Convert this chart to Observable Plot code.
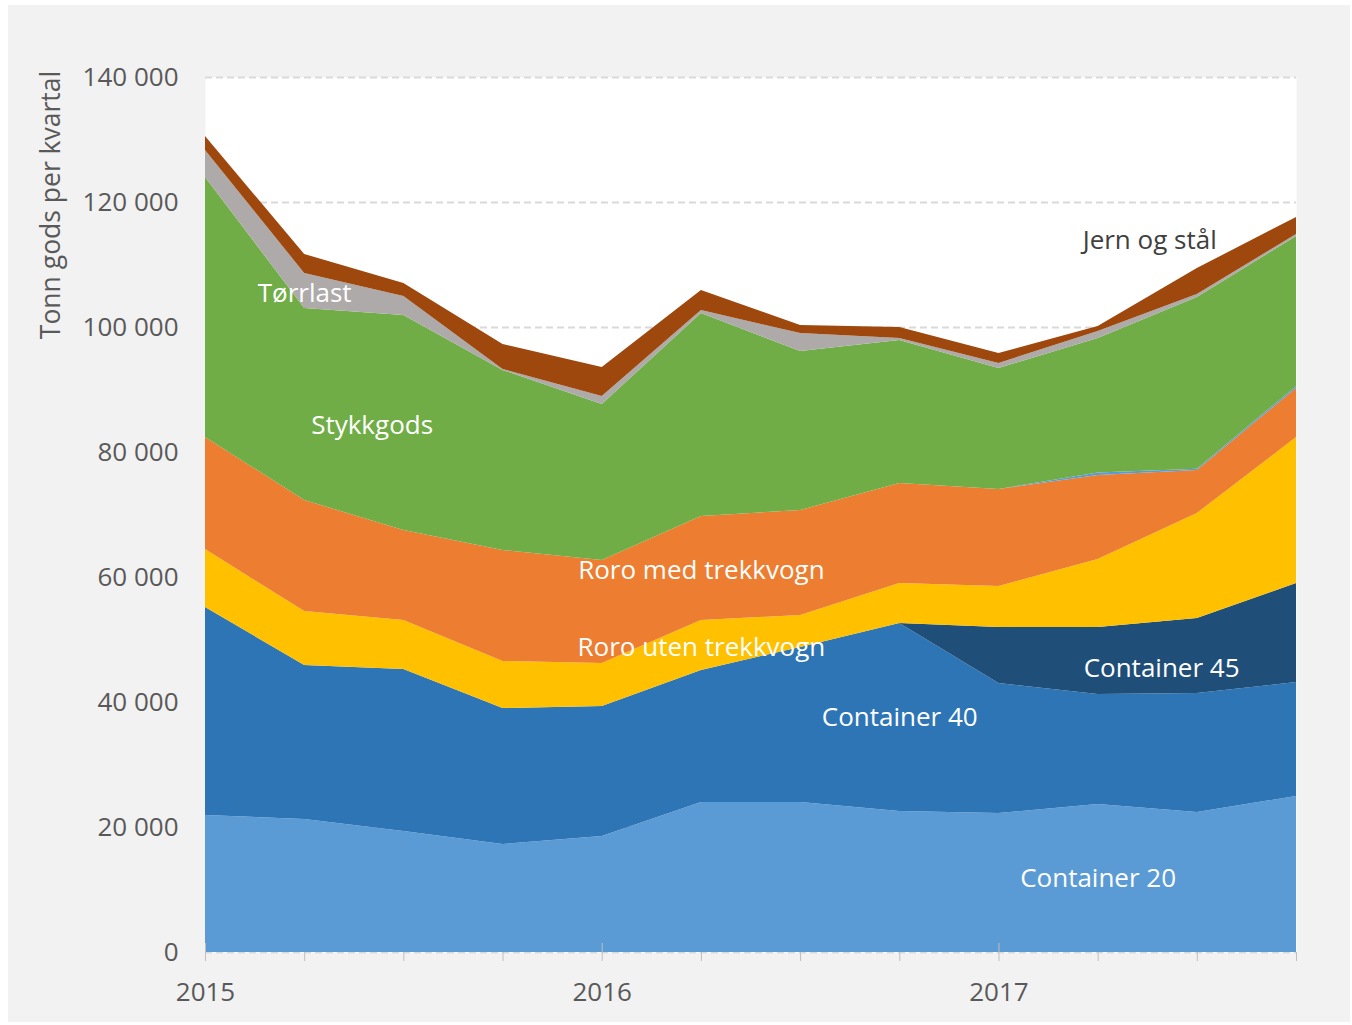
<!DOCTYPE html>
<html>
<head>
<meta charset="utf-8">
<script src="https://cdn.jsdelivr.net/npm/d3@7"></script>
<script src="https://cdn.jsdelivr.net/npm/@observablehq/plot@0.6"></script>
<style>
  body { margin: 0; background: #ffffff; font-family: "Open Sans", sans-serif; }
  #panel { position: absolute; left: 8px; top: 5px; width: 1342px; height: 1017px; background: #F2F2F2; overflow: hidden; }
  #chart { position: absolute; left: 0; top: 0; }
  #ytitle { position: absolute; left: 42px; top: 200px; transform: translate(-50%, -50%) rotate(-90deg); transform-origin: center; white-space: nowrap; font-size: 26.5px; color: #595959; }
</style>
</head>
<body>
<div id="panel">
  <div id="chart"></div>
  <div id="ytitle">Tonn gods per kvartal</div>
</div>
<script>
// Quarters 2015 Q1 … 2017 Q4 (decimal years)
const quarters = [2015, 2015.25, 2015.5, 2015.75, 2016, 2016.25, 2016.5, 2016.75, 2017, 2017.25, 2017.5, 2017.75];

// Tonnes per quarter, by cargo type
const container20    = [21920, 21280, 19360, 17280, 18560, 24000, 24000, 22560, 22240, 23680, 22400, 24960];
const container40    = [33280, 24640, 25920, 21760, 20800, 21120, 24800, 30080, 20800, 17600, 19040, 18240];
const container45    = [0, 0, 0, 0, 0, 0, 0, 0, 8960, 10720, 12000, 15840];
const roroUten       = [9280, 8640, 7840, 7520, 6880, 8000, 5120, 6400, 6560, 10880, 16800, 23360];
const roroMed        = [17920, 17760, 14400, 17760, 16480, 16640, 16800, 16000, 15520, 13440, 6880, 7840];
const containerAnnet = [0, 0, 0, 0, 0, 0, 0, 0, 0, 400, 200, 300];
const stykkgods      = [41600, 30720, 34400, 28800, 24960, 32480, 25440, 22880, 19360, 21520, 27480, 24020];
const torrlast       = [4320, 5600, 3040, 160, 1280, 480, 2880, 320, 800, 1120, 480, 320];
const jernOgStal     = [2240, 3040, 2080, 4000, 4640, 3200, 1280, 1760, 1600, 800, 4160, 2720];

const seriesNames  = ["Container 20", "Container 40", "Container 45", "Roro uten trekkvogn", "Roro med trekkvogn", "Container annet", "Stykkgods", "Tørrlast", "Jern og stål"];
const seriesValues = [container20, container40, container45, roroUten, roroMed, containerAnnet, stykkgods, torrlast, jernOgStal];
const seriesColors = ["#5B9BD5", "#2E75B6", "#1F4E79", "#FFC000", "#ED7D31", "#5B9BD5", "#70AD47", "#AEAAAA", "#9E480E"];

const yTicks = [0, 20000, 40000, 60000, 80000, 100000, 120000, 140000];
const yearTicks = [2015, 2016, 2017];

// In-chart labels (position in data units)
const labelText  = ["Tørrlast", "Stykkgods", "Roro med trekkvogn", "Roro uten trekkvogn", "Container 40", "Container 45", "Container 20", "Jern og stål"];
const labelX     = [2015.25, 2015.42, 2016.25, 2016.25, 2016.75, 2017.41, 2017.25, 2017.38];
const labelY     = [105440, 84320, 61120, 48800, 37600, 45440, 11840, 113920];
const labelColor = ["#ffffff", "#ffffff", "#ffffff", "#ffffff", "#ffffff", "#ffffff", "#ffffff", "#404040"];

const data = [];
seriesNames.forEach((s, i) => quarters.forEach((t, j) => data.push({s, t, v: seriesValues[i][j]})));
const labels = labelText.map((text, i) => ({text, x: labelX[i], y: labelY[i], c: labelColor[i]}));

const fmt = d => d3.format(",")(d).replace(/,/g, " ");

const chart = Plot.plot({
  width: 1342,
  height: 1017,
  marginLeft: 197,
  marginRight: 54,
  marginTop: 72,
  marginBottom: 70,
  style: {background: "transparent", fontFamily: "'Open Sans', sans-serif", fontSize: "26px", color: "#595959", overflow: "visible"},
  x: {type: "linear", domain: [2015, 2017.75]},
  y: {domain: [0, 140000]},
  color: {domain: seriesNames, range: seriesColors},
  marks: [
    Plot.frame({fill: "#ffffff", stroke: null}),
    Plot.gridY(yTicks, {stroke: "#D9D9D9", strokeOpacity: 1, strokeWidth: 2, strokeDasharray: "7,4"}),
    Plot.areaY(data, {x: "t", y: "v", fill: "s", order: seriesNames, curve: "linear"}),
    Plot.axisY({ticks: yTicks, tickFormat: fmt, tickSize: 0, tickPadding: 27, fontSize: 26, label: null, fill: "#595959"}),
    Plot.axisX({ticks: quarters, tickFormat: () => "", tickSize: 9, stroke: "#BFBFBF", label: null}),
    Plot.axisX({ticks: yearTicks, tickFormat: () => "", tickSize: 9, dy: -9, stroke: "#BFBFBF", label: null}),
    Plot.axisX({ticks: yearTicks, tickFormat: d => String(d), tickSize: 0, tickPadding: 30, fontSize: 26, fill: "#595959", label: null}),
    Plot.text(labels, {x: "x", y: "y", text: "text", fill: "c", fontSize: 26, textAnchor: "middle"})
  ]
});
document.getElementById("chart").appendChild(chart);
</script>
</body>
</html>
